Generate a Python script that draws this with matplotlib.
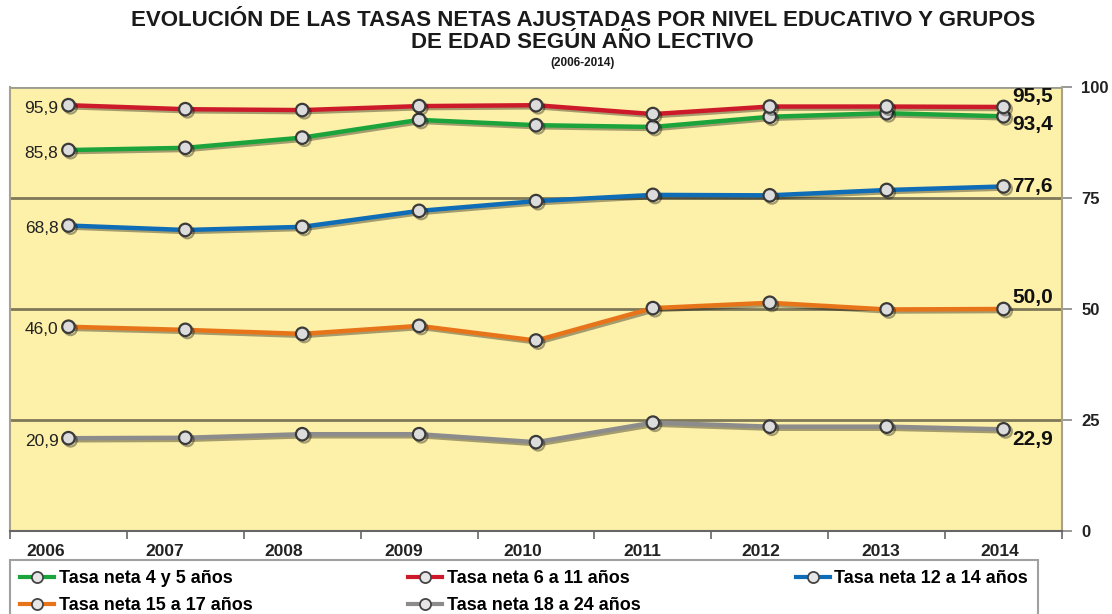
import matplotlib
matplotlib.use('Agg')
import matplotlib.pyplot as plt
import matplotlib.patheffects as pe
from matplotlib.lines import Line2D

years = ['2006', '2007', '2008', '2009', '2010', '2011', '2012', '2013', '2014']
tasa_4_5 = [85.8, 86.3, 88.6, 92.6, 91.4, 91.0, 93.3, 94.1, 93.4]
tasa_6_11 = [95.9, 95.0, 94.8, 95.7, 95.9, 93.9, 95.6, 95.6, 95.5]
tasa_12_14 = [68.8, 67.8, 68.5, 72.1, 74.3, 75.7, 75.6, 76.8, 77.6]
tasa_15_17 = [46.0, 45.3, 44.4, 46.2, 42.9, 50.2, 51.4, 49.9, 50.0]
tasa_18_24 = [20.9, 21.0, 21.8, 21.8, 20.0, 24.4, 23.5, 23.5, 22.9]
series_names = ['Tasa neta 4 y 5 años', 'Tasa neta 6 a 11 años', 'Tasa neta 12 a 14 años',
                'Tasa neta 15 a 17 años', 'Tasa neta 18 a 24 años']
y_ticks = [0, 25, 50, 75, 100]

colors = ['#1BA33C', '#CC1A2A', '#0E6DB6', '#E8741A', '#8C8C8C']
series = [tasa_4_5, tasa_6_11, tasa_12_14, tasa_15_17, tasa_18_24]
# offsets (pixels) for start / end labels
start_off = [(-10, -3), (-10, -3), (-10, -3), (-10, -3), (-10, -3)]
end_off = [(9, -8), (9, 10), (9, 0), (9, 12), (9, -10)]

plt.rcParams['font.family'] = ['Liberation Sans', 'DejaVu Sans']

fig = plt.figure(figsize=(11.12, 6.14), dpi=100)
ax = fig.add_axes([10/1112, 1-531/614, 1052/1112, 444/614])
ax.set_facecolor('#FDF0A8')

x = list(range(len(years)))
for s, c, so, eo in zip(series, colors, start_off, end_off):
    ax.plot(x, s, color=c, lw=3.2, marker='o', markersize=9,
            markerfacecolor='#DCDCDC', markeredgecolor='#3A3A3A', markeredgewidth=1.6,
            solid_capstyle='round', zorder=3,
            path_effects=[pe.SimpleLineShadow(offset=(1.5, -1.5), alpha=0.35), pe.Normal()])
    ax.annotate(f"{s[0]:.1f}".replace('.', ','), (x[0], s[0]), xytext=so,
                textcoords='offset pixels', ha='right', va='center',
                fontsize=12.5, color='#222222')
    ax.annotate(f"{s[-1]:.1f}".replace('.', ','), (x[-1], s[-1]), xytext=eo,
                textcoords='offset pixels', ha='left', va='center',
                fontsize=15, fontweight='bold', color='#111111')

for g in [25, 50, 75]:
    ax.axhline(g, color='#7E7858', lw=2.0, zorder=1)
ax.axhline(100, color='#9A9A90', lw=2.0, zorder=1)

ax.set_xlim(-0.5, len(years) - 0.5)
ax.set_ylim(0, 100)

# x axis: labels and boundary ticks
ax.set_xticks([-0.197 + 1.0205 * i for i in x])
ax.set_xticklabels(years, fontsize=12.5, fontweight='bold', color='#222222')
ax.tick_params(axis='x', which='major', length=0, pad=9)
ax.set_xticks([i - 0.5 for i in range(len(years) + 1)], minor=True)
ax.tick_params(axis='x', which='minor', length=6, width=1.2, color='#666666', direction='out')

ax.yaxis.tick_right()
ax.set_yticks(y_ticks)
ax.set_yticklabels([str(v) for v in y_ticks], fontsize=12, fontweight='bold', color='#222222')
ax.tick_params(axis='y', length=7, width=1.2, color='#888888', pad=7)

ax.spines['top'].set_visible(False)
ax.spines['left'].set_color('#A8A28A')
ax.spines['left'].set_linewidth(1.5)
ax.spines['right'].set_color('#A8A28A')
ax.spines['right'].set_linewidth(1.5)
ax.spines['bottom'].set_color('#666666')
ax.spines['bottom'].set_linewidth(1.5)

# title
fig.text(0.524, 1-20/614, 'EVOLUCIÓN DE LAS TASAS NETAS AJUSTADAS POR NIVEL EDUCATIVO Y GRUPOS',
         ha='center', va='center', fontsize=16, fontweight='bold', color='#1A1A1A')
fig.text(0.524, 1-42/614, 'DE EDAD SEGÚN AÑO LECTIVO',
         ha='center', va='center', fontsize=16, fontweight='bold', color='#1A1A1A')
fig.text(0.524, 1-63/614, '(2006-2014)', ha='center', va='center', fontsize=8.5,
         fontweight='bold', color='#1A1A1A')

# legend
handles = [Line2D([0], [0], color=c, lw=3, marker='o', markersize=8,
                  markerfacecolor='#E6E6E6', markeredgecolor='#444444', markeredgewidth=1.3)
           for c in colors]
order = [0, 3, 1, 4, 2]
leg = fig.legend([handles[i] for i in order], [series_names[i] for i in order],
                 ncol=3, loc='upper left', bbox_to_anchor=(10/1112, 1-560/614),
                 frameon=True, fancybox=False, edgecolor='#888888',
                 prop={'weight': 'bold', 'size': 13}, handlelength=1.9, handletextpad=0.25,
                 borderpad=0.55, labelspacing=0.55, borderaxespad=0, columnspacing=8.6)
leg.get_frame().set_linewidth(1.5)

fig.savefig('out.png', dpi=100, facecolor='white')
